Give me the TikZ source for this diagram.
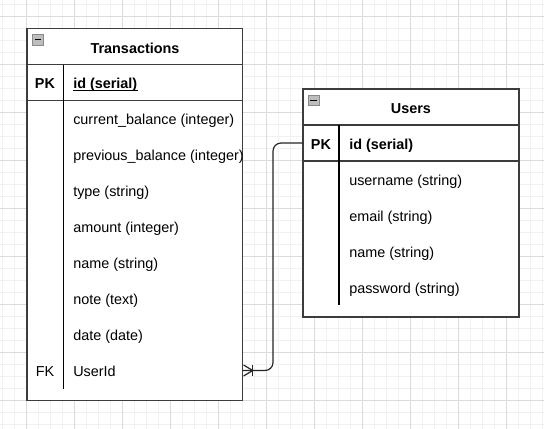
\documentclass[tikz,border=0pt]{standalone}
\usepackage{fontspec}
\setmainfont{Liberation Sans}
\usetikzlibrary{fit,calc}
\definecolor{bordercol}{HTML}{3C3C3C}
\definecolor{majorgrid}{HTML}{DCDCDC}
\definecolor{minorgrid}{HTML}{F1F1F1}
\definecolor{iconfill}{HTML}{BDBDBD}
\definecolor{iconline}{HTML}{8A8A8A}
\tikzset{
  minorline/.style={draw=minorgrid, line width=0.6pt},
  majorline/.style={draw=majorgrid, line width=0.6pt},
  tableframe/.style={draw=bordercol, line width=1.3pt, fill=white, inner sep=0pt},
  sepline/.style={draw=bordercol, line width=1.3pt},
  divline/.style={draw=black, line width=1pt},
  rowbox/.style={inner sep=0pt, draw=none},
  titletext/.style={anchor=base, inner sep=0pt, font=\fontsize{10.8pt}{13pt}\selectfont\bfseries},
  keytext/.style={anchor=base, inner sep=0pt},
  attrtext/.style={anchor=base west, inner sep=0pt},
  boldtext/.style={font=\fontsize{10.8pt}{13pt}\selectfont\bfseries},
  icon/.style={draw=iconline, fill=iconfill, line width=0.6pt},
  iconminus/.style={draw=black, line width=0.8pt},
  conn/.style={draw=black!85, line width=0.9pt}
}
\begin{document}
\begin{tikzpicture}[x=0.75pt,y=-0.75pt,font=\fontsize{10.8pt}{13pt}\selectfont]
\useasboundingbox (0,0) rectangle (544,429);
\fill[white] (0,0) rectangle (544,429);
% grid
\foreach \x in {2.7,14.7,...,543} \draw[minorline] (\x,0) -- (\x,429);
\foreach \y in {4.3,16.3,...,429} \draw[minorline] (0,\y) -- (544,\y);
\foreach \x in {26.7,74.7,...,543} \draw[majorline] (\x,0) -- (\x,429);
\foreach \y in {16.3,64.3,...,429} \draw[majorline] (0,\y) -- (544,\y);

% ---------- Transactions ----------
\node[tableframe, fit={(27,28.5) (242.5,400.5)}] (T) {};
\draw[sepline] (27,64.5) -- (242.5,64.5);
\draw[sepline] (27,100.5) -- (242.5,100.5);
\draw[divline] (63.3,64.5) -- (63.3,388.5);
\draw[icon] (32,34) rectangle (43.5,45);
\draw[iconminus] (34.5,39.5) -- (41,39.5);
\node[titletext] (Ttitle) at (135,53.5) {Transactions};
\node[rowbox, fit={(27,64.5) (242.5,100.5)}] (TPKrow) {};
\node[rowbox, fit={(27,352.5) (242.5,388.5)}] (TFKrow) {};
\node[keytext, boldtext] (TPK) at (45,88.5) {PK};
\node[attrtext, boldtext] (Tid) at (73,88.5) {id (serial)};
\draw[black, line width=0.9pt] ([yshift=-1.4pt]Tid.base west) -- ([yshift=-1.4pt]Tid.base east);
\node[attrtext] (Ta1) at (73,124.5) {current\_balance (integer)};
\node[attrtext] (Ta2) at (73,160.5) {previous\_balance (integer)};
\node[attrtext] (Ta3) at (73,196.5) {type (string)};
\node[attrtext] (Ta4) at (73,232.5) {amount (integer)};
\node[attrtext] (Ta5) at (73,268.5) {name (string)};
\node[attrtext] (Ta6) at (73,304.5) {note (text)};
\node[attrtext] (Ta7) at (73,340.5) {date (date)};
\node[keytext] (TFK) at (45,376.5) {FK};
\node[attrtext] (Ta8) at (73,376.5) {UserId};

% ---------- Users ----------
\node[tableframe, fit={(303.3,89.3) (519,317)}] (U) {};
\draw[sepline] (303.3,125) -- (519,125);
\draw[sepline] (303.3,161) -- (519,161);
\draw[divline] (339,125) -- (339,305);
\draw[icon] (308,95) rectangle (319,105.5);
\draw[iconminus] (310.3,100.2) -- (316.7,100.2);
\node[titletext] (Utitle) at (411,113) {Users};
\node[rowbox, fit={(303.3,125) (519,161)}] (UPKrow) {};
\node[keytext, boldtext] (UPK) at (321,149) {PK};
\node[attrtext, boldtext] (Uid) at (349,149) {id (serial)};
\node[attrtext] (Ua1) at (349,185) {username (string)};
\node[attrtext] (Ua2) at (349,221) {email (string)};
\node[attrtext] (Ua3) at (349,257) {name (string)};
\node[attrtext] (Ua4) at (349,293) {password (string)};

% ---------- relation ----------
\draw[conn, rounded corners=6pt] (UPKrow.west) -- ++(-30,0) |- (TFKrow.east);
\draw[conn] ($(TFKrow.east)+(0.8,-5.5)$) -- ($(TFKrow.east)+(10,0)$) -- ($(TFKrow.east)+(0.8,5.5)$);
\draw[conn] ($(TFKrow.east)+(10,-5.5)$) -- ($(TFKrow.east)+(10,5.5)$);
\end{tikzpicture}
\end{document}
